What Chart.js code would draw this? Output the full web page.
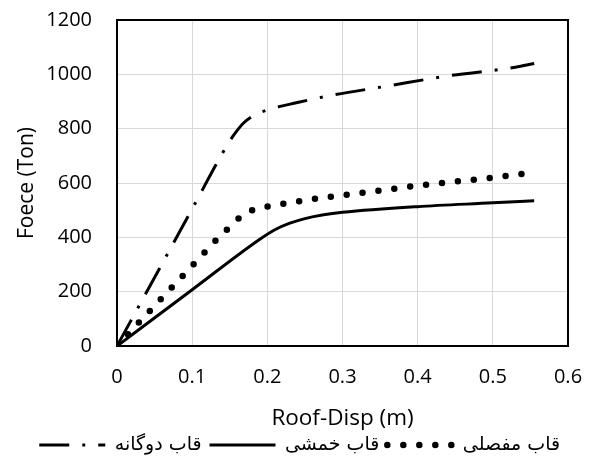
<!DOCTYPE html>
<html>
<head>
<meta charset="utf-8">
<script src="https://cdn.jsdelivr.net/npm/chart.js@4"></script>
<style>
  html, body { margin: 0; padding: 0; background: #fff; }
  #wrap { width: 591px; height: 458px; }
</style>
</head>
<body>
<div id="wrap"><canvas id="chart" width="591" height="458"></canvas></div>
<script>
'use strict'

// series names (legend order, left to right)
const seriesNames = ['قاب دوگانه', 'قاب خمشی', 'قاب مفصلی'];

// dual frame (dash-dot)
const dualX = [0, 0.05, 0.1, 0.145, 0.155, 0.168, 0.181, 0.2, 0.24, 0.28, 0.36, 0.44, 0.53, 0.555];
const dualY = [0, 252, 505, 732, 775, 820, 847, 869, 896, 920, 957, 994, 1026, 1040];

// moment frame (solid)
const momentX = [0, 0.1, 0.19, 0.21, 0.23, 0.25, 0.275, 0.3, 0.4, 0.5, 0.555];
const momentY = [0, 207, 393, 428, 452, 469, 483, 492, 513, 527, 535];

// hinged frame (dotted)
const hingedX = [0, 0.05, 0.1, 0.133, 0.148, 0.164, 0.183, 0.204, 0.247, 0.3, 0.354, 0.4, 0.44, 0.5, 0.55];
const hingedY = [0, 148, 295, 393, 433, 474, 503, 515, 535, 555, 574, 590, 602, 620, 637];

// tick labels
const xTickLabels = ['0', '0.1', '0.2', '0.3', '0.4', '0.5', '0.6'];
const yTickLabels = ['0', '200', '400', '600', '800', '1000', '1200'];

const toPoints = (xs, ys) => xs.map((x, i) => ({ x: x, y: ys[i] }));

const lineStyles = [
  { dash: [30, 13, 3, 13], width: 3, cap: 'butt' },
  { dash: [], width: 3, cap: 'butt' },
  { dash: [0, 16], width: 6.5, cap: 'round' }
];

const tickFont = { family: '"Open Sans", "DejaVu Sans"', size: 20 };

// black frame around the plot area
const framePlugin = {
  id: 'frame',
  beforeDatasetsDraw(chart) {
    const a = chart.chartArea;
    const c = chart.ctx;
    c.save();
    c.strokeStyle = '#000';
    c.lineWidth = 2;
    c.strokeRect(a.left, a.top, a.right - a.left, a.bottom - a.top);
    c.restore();
  }
};

const ctx = document.getElementById('chart');
new Chart(ctx, {
  type: 'scatter',
  data: {
    datasets: [
      { label: seriesNames[0], data: toPoints(dualX, dualY) },
      { label: seriesNames[1], data: toPoints(momentX, momentY) },
      { label: seriesNames[2], data: toPoints(hingedX, hingedY) }
    ].map((d, i) => Object.assign(d, {
      showLine: true,
      borderColor: '#000',
      backgroundColor: '#000',
      borderWidth: lineStyles[i].width,
      borderDash: lineStyles[i].dash,
      borderCapStyle: lineStyles[i].cap,
      pointRadius: 0,
      pointHoverRadius: 0,
      cubicInterpolationMode: 'monotone'
    }))
  },
  options: {
    responsive: false,
    animation: false,
    layout: { padding: { top: 20, right: 23, left: 0, bottom: -6.5 } },
    scales: {
      x: {
        type: 'linear',
        min: 0,
        max: 0.6,
        ticks: {
          stepSize: 0.1,
          padding: 3,
          color: '#000',
          font: tickFont,
          maxRotation: 0,
          callback: (v, i) => xTickLabels[i]
        },
        grid: { color: '#d9d9d9', lineWidth: 1, drawTicks: true, tickLength: 16, tickColor: 'rgba(0,0,0,0)' },
        border: { display: false },
        title: {
          display: true,
          text: 'Roof-Disp (m)',
          color: '#000',
          font: { family: '"Open Sans", "DejaVu Sans"', size: 22.5 },
          padding: { top: 0, bottom: -4.4 }
        },
        afterFit: (scale) => { scale.height = 81.5; }
      },
      y: {
        min: 0,
        max: 1200,
        ticks: {
          stepSize: 200,
          padding: 3,
          color: '#000',
          font: tickFont,
          callback: (v, i) => yTickLabels[i]
        },
        grid: { color: '#d9d9d9', lineWidth: 1, drawTicks: true, tickLength: 22, tickColor: 'rgba(0,0,0,0)' },
        border: { display: false },
        title: {
          display: true,
          text: 'Foece (Ton)',
          color: '#000',
          font: { family: '"Open Sans", "DejaVu Sans"', size: 21 },
          padding: { top: 14, bottom: 0 }
        },
        afterFit: (scale) => { scale.width = 117; }
      }
    },
    plugins: {
      tooltip: { enabled: false },
      legend: {
        position: 'bottom',
        align: 'end',
        labels: {
          color: '#000',
          font: { family: '"DejaVu Sans"', size: 19 },
          boxWidth: 66,
          boxHeight: 10,
          padding: 8,
          usePointStyle: true,
          pointStyleWidth: 66,
          generateLabels: (chart) => chart.data.datasets.map((d, i) => ({
            text: d.label,
            datasetIndex: i,
            fillStyle: '#000',
            strokeStyle: '#000',
            fontColor: '#000',
            lineWidth: lineStyles[i].width,
            lineDash: lineStyles[i].dash,
            lineCap: lineStyles[i].cap,
            pointStyle: 'line',
            hidden: false
          }))
        }
      }
    }
  },
  plugins: [framePlugin]
});
</script>
</body>
</html>
